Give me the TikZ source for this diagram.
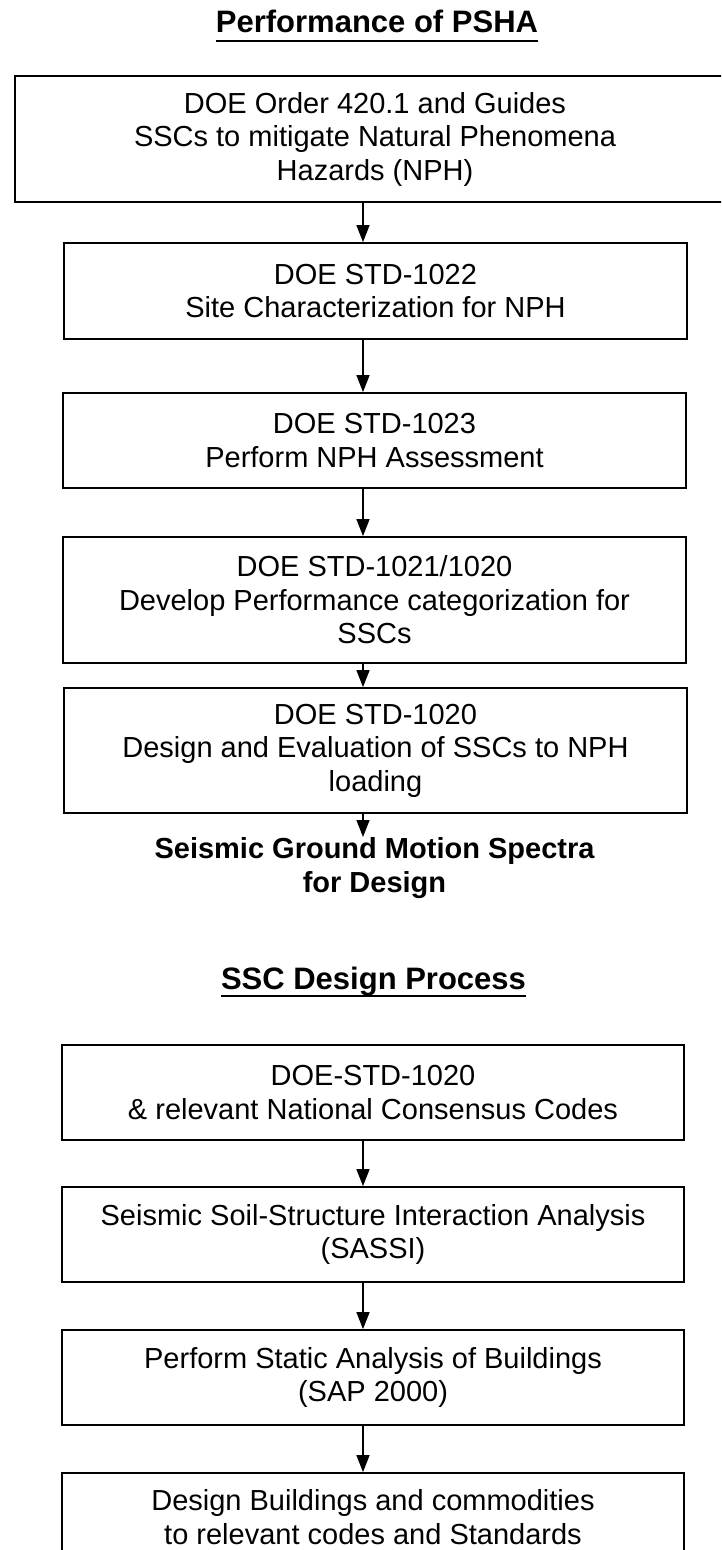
\documentclass[tikz,border=0pt]{standalone}
\usepackage{fontspec}
\setmainfont{Liberation Sans}
\usetikzlibrary{arrows.meta}

\tikzset{
  stepbox/.style={draw, line width=1.8pt, inner sep=0pt, align=center,
    font=\fontsize{29}{33.5}\selectfont},
  heading/.style={inner sep=0pt, font=\fontsize{31}{36}\selectfont\bfseries},
  result/.style={inner sep=0pt, align=center, font=\fontsize{29}{34}\selectfont\bfseries},
  uline/.style={line width=2pt},
  flow/.style={line width=1.4pt, -{Triangle[width=13pt,length=17pt]}}
}

\begin{document}
\begin{tikzpicture}[x=1pt,y=-1pt]
  \clip (0,0) rectangle (721,1550);
  \fill[white] (0,0) rectangle (721,1550);

  % column of the connecting arrows
  \coordinate (ax) at (363,0);

  % ---------- first flow ----------
  \node[heading, anchor=base] (t1) at (377,32) {Performance of PSHA};
  \draw[uline] ([yshift=-9pt]t1.base west) -- ([yshift=-9pt]t1.base east);

  \node[stepbox, minimum width=720pt, minimum height=126pt] (b1) at (375,139)
    {DOE Order 420.1 and Guides\\SSCs to mitigate Natural Phenomena\\Hazards (NPH)};
  \node[stepbox, minimum width=623pt, minimum height=96pt] (b2) at (375.5,291)
    {DOE STD-1022\\Site Characterization for NPH};
  \node[stepbox, minimum width=623pt, minimum height=95pt] (b3) at (374.5,440.5)
    {DOE STD-1023\\Perform NPH Assessment};
  \node[stepbox, minimum width=623pt, minimum height=126pt] (b4) at (374.5,600)
    {DOE STD-1021/1020\\Develop Performance categorization for\\SSCs};
  \node[stepbox, minimum width=623pt, minimum height=125pt] (b5) at (375.5,750.5)
    {DOE STD-1020\\Design and Evaluation of SSCs to NPH\\loading};
  \node[result, anchor=north] (gm) at (374.5,837)
    {Seismic Ground Motion Spectra\\for Design};

  \draw[flow] (b1.south -| ax) -- (b2.north -| ax);
  \draw[flow] (b2.south -| ax) -- (b3.north -| ax);
  \draw[flow] (b3.south -| ax) -- (b4.north -| ax);
  \draw[flow] (b4.south -| ax) -- (b5.north -| ax);
  \draw[flow] (b5.south -| ax) -- (gm.north -| ax);

  % ---------- second flow ----------
  \node[heading, anchor=base] (t2) at (373.5,989) {SSC Design Process};
  \draw[uline] ([yshift=-7pt]t2.base west) -- ([yshift=-7pt]t2.base east);

  \node[stepbox, minimum width=622pt, minimum height=95pt] (c1) at (373,1092.5)
    {DOE-STD-1020\\\& relevant National Consensus Codes};
  \node[stepbox, minimum width=622pt, minimum height=95pt] (c2) at (373,1234.5)
    {Seismic Soil-Structure Interaction Analysis\\(SASSI)};
  \node[stepbox, minimum width=622pt, minimum height=95pt] (c3) at (373,1377.5)
    {Perform Static Analysis of Buildings\\(SAP 2000)};
  % last box runs past the lower edge of the page
  \node[stepbox, minimum width=622pt, minimum height=88pt] (c4) at (373,1517)
    {Design Buildings and commodities\\to relevant codes and Standards};

  \draw[flow] (c1.south -| ax) -- (c2.north -| ax);
  \draw[flow] (c2.south -| ax) -- (c3.north -| ax);
  \draw[flow] (c3.south -| ax) -- (c4.north -| ax);
\end{tikzpicture}
\end{document}
